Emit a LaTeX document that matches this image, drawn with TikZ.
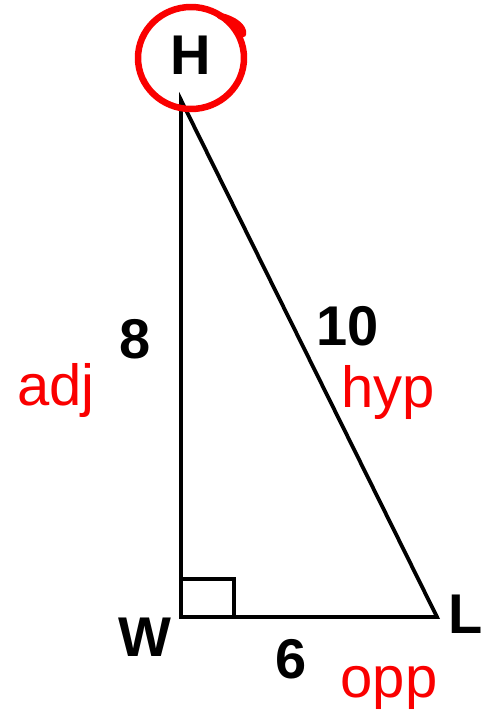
\documentclass[tikz,border=0pt]{standalone}
\usepackage{fontspec}
\setmainfont{Liberation Sans}
\definecolor{pen}{RGB}{250,0,0}
\begin{document}
\begin{tikzpicture}[x=1pt,y=-1pt,
  lbl/.style={font=\fontsize{56}{60}\selectfont\bfseries, inner sep=0pt},
  note/.style={font=\fontsize{58}{62}\selectfont, text=pen, inner sep=0pt},
  side/.style={line width=3.8pt, line join=miter},
  ink/.style={draw=pen, line width=6.5pt, line cap=round, line join=round}]
\useasboundingbox[fill=white] (0,0) rectangle (484,728);
\coordinate (h) at (181,100);
\coordinate (w) at (181,617);
\coordinate (l) at (437,617);
\draw[side] (h) -- (w) -- (l) -- cycle;
\coordinate (b1) at (181,579);
\coordinate (b2) at (234,579);
\coordinate (b3) at (234,617);
\draw[line width=3.2pt] (b1) -- (b2) -- (b3);
\node[lbl] (H) at (191,55) {H};
\node[lbl] (W) at (145,637) {W};
\node[lbl] (L) at (466,614) {L};
\node[lbl] (s8) at (135,339) {8};
\node[lbl] (s10) at (348,326) {10};
\node[lbl] (s6) at (291,659) {6};
\node[note] (adj) at (56,390) {adj};
\node[note] (hyp) at (388,392) {hyp};
\node[note] (opp) at (389,688) {opp};
\draw[ink] (191,58) ellipse [x radius=53, y radius=51];
\draw[ink] (220,16) .. controls (234,19) and (244,27) .. (243,34);
\end{tikzpicture}
\end{document}
